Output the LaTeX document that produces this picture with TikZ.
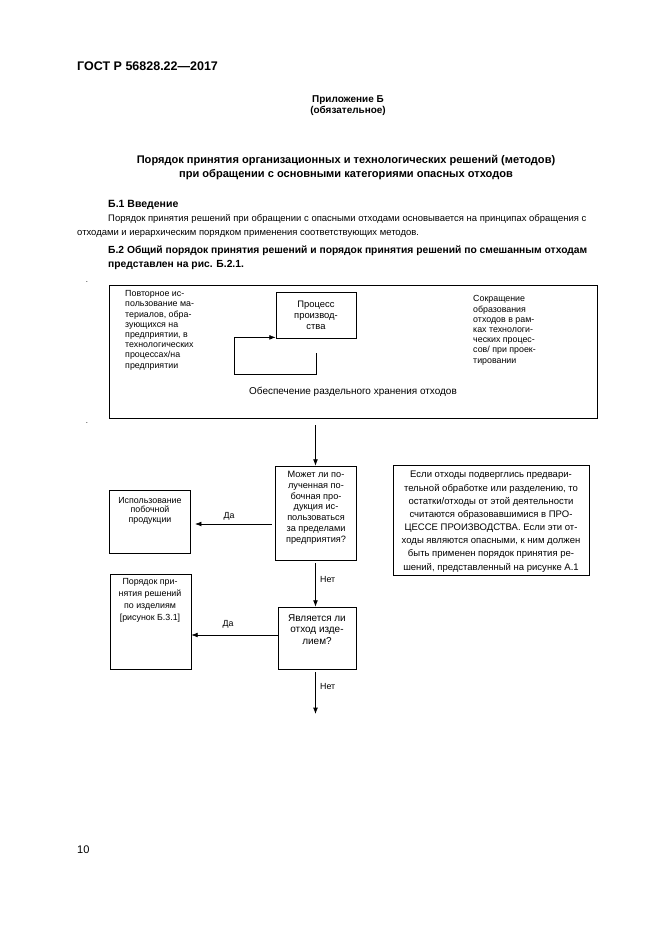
\documentclass[tikz,border=0pt]{standalone}
\usepackage{fontspec}
\setmainfont{Liberation Sans}
\usetikzlibrary{arrows.meta,fit,calc}

\begin{document}
\begin{tikzpicture}[x=0.3177mm, y=-0.3177mm,
    box/.style={draw, line width=0.6pt, inner sep=0pt},
    arr/.style={-{Latex[length=2mm,width=1.5mm]}, line width=0.6pt},
    txt/.style={inner sep=0pt, align=center, anchor=base, font=\fontsize{8}{9.5}\selectfont},
    lefttxt/.style={inner sep=0pt, align=left, anchor=base west, font=\fontsize{8}{9.2}\selectfont}]
    \useasboundingbox (0,0) rectangle (661,935);
    \fill[white] (0,0) rectangle (661,935);

    % page header and text above the figure (multi-line texts sit on their last baseline)
    \node[anchor=base west, inner sep=0pt, font=\fontsize{11.3}{13}\selectfont\bfseries] (gost) at (77,71) {ГОСТ Р 56828.22—2017};
    \node[txt, font=\fontsize{9}{10}\selectfont\bfseries] (annex) at (348,114) {Приложение Б\\(обязательное)};
    \node[txt, font=\fontsize{10}{11.8}\selectfont\bfseries] (title) at (346,177) {Порядок принятия организационных и технологических решений (методов)\\при обращении с основными категориями опасных отходов};
    \node[anchor=base west, inner sep=0pt, font=\fontsize{9.5}{10}\selectfont\bfseries] (intro) at (108,207) {Б.1 Введение};
    \node[lefttxt, font=\fontsize{8.55}{11.8}\selectfont] (para) at (77,235) {\hspace*{9.85mm}Порядок принятия решений при обращении с опасными отходами основывается на принципах обращения с\\отходами и иерархическим порядком применения соответствующих методов.};
    \node[lefttxt, font=\fontsize{9.3}{11.8}\selectfont\bfseries] (general) at (108,267) {Б.2 Общий порядок принятия решений и порядок принятия решений по смешанным отходам\\представлен на рис. Б.2.1.};
    \node[inner sep=0pt, font=\fontsize{7}{8}\selectfont] (dota) at (87,282) {.};
    \node[inner sep=0pt, font=\fontsize{7}{8}\selectfont] (dotb) at (87,423) {.};

    % upper frame with the production process
    \node[box, fit={(109,285) (597,418)}] (frame) {};
    \node[box, fit={(276,292) (356,338)}] (proc) {};
    \node[txt, font=\fontsize{8.5}{9.8}\selectfont] (proctxt) at (316,329) {Процесс\\производ-\\ства};
    \node[lefttxt] (reuse) at (125,368) {Повторное ис-\\пользование ма-\\териалов, обра-\\зующихся на\\предприятии, в\\технологических\\процессах/на\\предприятии};
    \node[lefttxt] (reduce) at (473,363) {Сокращение\\образования\\отходов в рам-\\ках технологи-\\ческих процес-\\сов/ при проек-\\тировании};
    \node[txt, font=\fontsize{9}{10}\selectfont] (storage) at (353,394) {Обеспечение раздельного хранения отходов};
    \coordinate (loopstart) at (316,353);
    \coordinate (loopcorner) at (234,374);
    \draw[arr] (loopstart) |- (loopcorner) |- ([yshift=0.3mm]proc.south west);

    % decisions
    \node[box, fit={(275,466) (356,560)}] (dec1) {};
    \node[txt, font=\fontsize{8.3}{9.7}\selectfont] (dec1txt) at (316,542) {Может ли по-\\лученная по-\\бочная про-\\дукция ис-\\пользоваться\\за пределами\\предприятия?};
    \node[box, fit={(278,607) (356,669)}] (dec2) {};
    \node[txt, font=\fontsize{9}{10.6}\selectfont] (dec2txt) at (317,644.5) {Является ли\\отход изде-\\лием?};
    \node[box, fit={(109,490) (190,553)}] (use) {};
    \node[txt, font=\fontsize{8}{8.8}\selectfont] (usetxt) at (150,522.5) {Использование\\побочной\\продукции};
    \node[box, fit={(110,574) (191,669)}] (items) {};
    \node[txt, font=\fontsize{8}{10.6}\selectfont] (itemstxt) at (150,620) {Порядок при-\\нятия решений\\по изделиям\\{[рисунок Б.3.1]}};
    \node[box, fit={(393,465) (589,575)}] (note) {};
    \node[txt, font=\fontsize{8.6}{11.9}\selectfont] (notetxt) at (491,570) {Если отходы подверглись предвари-\\тельной обработке или разделению, то\\остатки/отходы от этой деятельности\\считаются образовавшимися в ПРО-\\ЦЕССЕ ПРОИЗВОДСТВА. Если эти от-\\ходы являются опасными, к ним должен\\быть применен порядок принятия ре-\\шений, представленный на рисунке А.1};
    \coordinate (further) at (315.5,714);

    % connectors
    \draw[arr, shorten <=2.2mm] (dec1.north |- frame.south) -- (dec1.north);
    \draw[arr, shorten <=1mm, shorten >=1.5mm] (dec1.west |- 0,524) -- (use.east |- 0,524);
    \draw[arr, shorten <=1mm] (dec1.south) -- (dec1.south |- dec2.north);
    \draw[arr] (dec2.west |- 0,635) -- (items.east |- 0,635);
    \draw[arr, shorten <=1mm] (further |- dec2.south) -- (further);

    \node[anchor=base, inner sep=0pt, font=\fontsize{8}{9}\selectfont] (yes1) at (229,518) {Да};
    \node[anchor=base, inner sep=0pt, font=\fontsize{8}{9}\selectfont] (yes2) at (228,626) {Да};
    \node[anchor=base west, inner sep=0pt, font=\fontsize{8}{9}\selectfont] (no1) at (320,582) {Нет};
    \node[anchor=base west, inner sep=0pt, font=\fontsize{8}{9}\selectfont] (no2) at (320,689) {Нет};
    \node[anchor=base west, inner sep=0pt, font=\fontsize{10}{12}\selectfont] (page) at (77,853) {10};
\end{tikzpicture}
\end{document}
